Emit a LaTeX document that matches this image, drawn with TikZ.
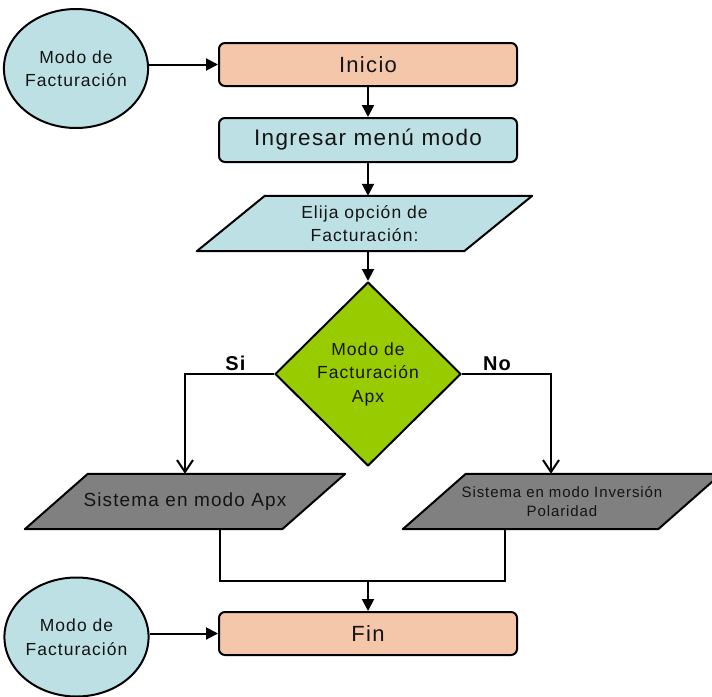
\documentclass[tikz,border=0pt]{standalone}
\usepackage{fontspec}
\setmainfont{Liberation Sans}[LetterSpace=6]
\usetikzlibrary{shapes.geometric,arrows.meta,calc,backgrounds}

\definecolor{peach}{RGB}{244,199,170}
\definecolor{paleblue}{RGB}{188,224,227}
\definecolor{leafgreen}{RGB}{153,204,0}
\definecolor{slategray}{RGB}{128,128,128}
\definecolor{inkgray}{RGB}{20,20,20}

\newcommand{\fsz}[2]{\fontsize{#1}{#2}\selectfont}

\tikzset{
  outline/.style={draw=black, line width=2pt, line join=round},
  termbox/.style={outline, rectangle, rounded corners=6pt, fill=peach,
    minimum width=298pt, minimum height=43pt, inner sep=0pt,
    font=\fsz{22}{26}, text=inkgray},
  procbox/.style={termbox, fill=paleblue, minimum height=44pt, font=\fsz{22.5}{26}},
  linkcircle/.style={outline, ellipse, fill=paleblue, minimum width=126pt,
    minimum height=119pt, inner sep=0pt, align=center, font=\fsz{17.5}{23.5}, text=inkgray},
  decbox/.style={outline, diamond, fill=leafgreen, minimum width=186pt,
    minimum height=184pt, inner sep=0pt, align=center, font=\fsz{17.5}{23.5}, text=inkgray},
  iotext/.style={rectangle, inner sep=0pt, minimum height=55pt, align=center, text=inkgray},
  branchlabel/.style={font=\bfseries\fsz{20}{24}, anchor=base, inner sep=0pt},
  connector/.style={draw=black, line width=2pt},
  flowarrow/.style={connector, -{Triangle[length=12pt, width=12pt]}},
  barbarrow/.style={connector, -{Straight Barb[length=12pt, width=16pt, line width=2pt]}},
}

\begin{document}
\begin{tikzpicture}[x=1pt, y=-1pt]
  \useasboundingbox (0,0) rectangle (712,696);

  % terminals and process steps
  \node[termbox] (inicio) at (368,64.5) {Inicio};
  \node[procbox] (menu) at (368,140) {Ingresar menú modo};
  \node[termbox] (fin) at (368,633.5) {Fin};

  % off-page connectors
  \node[linkcircle] (linkA) at (76,68.5) {Modo de\\Facturación};
  \node[linkcircle] (linkB) at (76.5,637) {Modo de\\Facturación};

  % input / output steps (text boxes; the slanted outlines go underneath)
  \node[iotext, minimum width=267pt, font=\fsz{17.5}{23}] (elija) at (364.5,223.5)
    {Elija opción de\\Facturación:};
  \node[iotext, minimum width=257pt, font=\fsz{19}{23}] (apx) at (185,501.5)
    {Sistema en modo Apx};
  \node[iotext, minimum width=255pt, font=\fsz{15}{19}] (inv) at (562,501.5)
    {Sistema en modo Inversión\\Polaridad};

  \begin{scope}[on background layer]
    \fill[white] (0,0) rectangle (712,696);
    \clip (0,0) rectangle (712,696);
    \draw[outline, fill=paleblue]
      ($(elija.south west)+(-34,0)$) -- ($(elija.south east)+(-34,0)$) --
      ($(elija.north east)+(34,0)$) -- ($(elija.north west)+(34,0)$) -- cycle;
    \draw[outline, fill=slategray]
      ($(apx.south west)+(-31.5,0)$) -- ($(apx.south east)+(-31.5,0)$) --
      ($(apx.north east)+(31.5,0)$) -- ($(apx.north west)+(31.5,0)$) -- cycle;
    \draw[outline, fill=slategray]
      ($(inv.south west)+(-31.5,0)$) -- ($(inv.south east)+(-31.5,0)$) --
      ($(inv.north east)+(31.5,0)$) -- ($(inv.north west)+(31.5,0)$) -- cycle;
  \end{scope}

  % decision
  \node[decbox] (dec) at (368,374) {Modo de\\Facturación\\Apx};

  % branch labels
  \node[branchlabel] (si) at (235.5,370) {Si};
  \node[branchlabel] (no) at (497,370) {No};

  % main flow
  \draw[flowarrow] (linkA.east |- inicio.west) -- (inicio.west);
  \draw[flowarrow] (inicio.south) -- (menu.north);
  \draw[flowarrow] (menu.south) -- (menu.south |- elija.north);
  \draw[flowarrow] (menu.south |- elija.south) -- (dec.north);

  % branches
  \coordinate (noDrop) at ($(inv.north)+(-11,0)$);
  \draw[barbarrow] (dec.west) -| (apx.north);
  \draw[barbarrow] (dec.east) -| (noDrop);

  % merge into the end
  \coordinate (joinL) at (220,581);
  \coordinate (joinR) at (505,581);
  \coordinate (joinM) at (fin.north |- joinL);
  \draw[connector] (joinL |- apx.south) -- (joinL) -- (joinR) -- (joinR |- inv.south);
  \draw[flowarrow] (joinM) -- (fin.north);
  \draw[flowarrow] (linkB.east |- fin.west) -- (fin.west);
\end{tikzpicture}
\end{document}
